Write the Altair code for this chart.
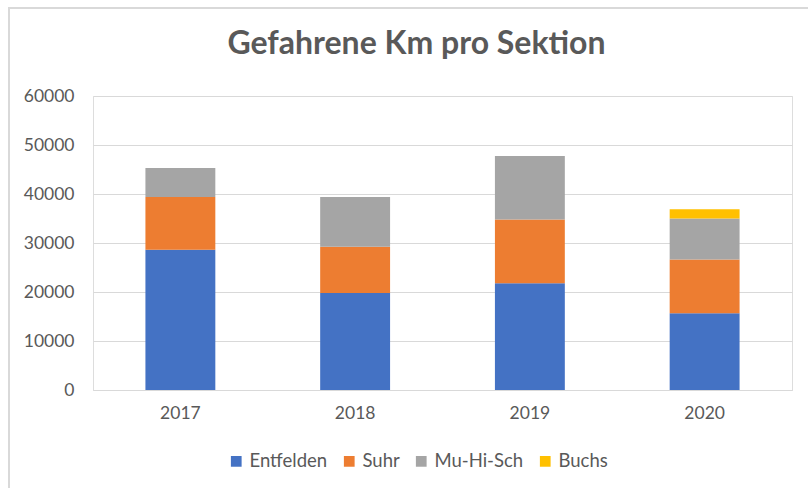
import altair as alt
import pandas as pd

years = ["2017", "2018", "2019", "2020"]
series = ["Entfelden", "Suhr", "Mu-Hi-Sch", "Buchs"]
entfelden = [28600, 19800, 21800, 15650]
suhr = [10800, 9450, 13000, 11000]
muhisch = [5900, 10150, 12950, 8350]
buchs = [0, 0, 0, 1900]
colors = ["#4472C4", "#ED7D31", "#A5A5A5", "#FFC000"]
y_ticks = [0, 10000, 20000, 30000, 40000, 50000, 60000]

rows = []
for vals, name in zip([entfelden, suhr, muhisch, buchs], series):
    for yr, v in zip(years, vals):
        rows.append({"Jahr": yr, "Sektion": name, "Km": v, "ord": series.index(name)})
df = pd.DataFrame(rows)

FONT = "Lato"
GREY = "#595959"

bars = alt.Chart(df).mark_bar().encode(
    x=alt.X("Jahr:N", sort=years, title=None,
            scale=alt.Scale(paddingInner=0.6, paddingOuter=0.3),
            axis=alt.Axis(labelAngle=0, ticks=False, domain=True, domainColor="#D9D9D9",
                          domainWidth=1, labelPadding=14, labelFontSize=17.5, labelColor=GREY,
                          labelFont=FONT, grid=False)),
    y=alt.Y("Km:Q", stack="zero", title=None,
            scale=alt.Scale(domain=[0, 60000], nice=False),
            axis=alt.Axis(values=y_ticks, ticks=False, domain=False, gridColor="#D9D9D9",
                          gridWidth=1, labelPadding=19, labelFontSize=17.5, labelColor=GREY,
                          labelFont=FONT, format="d")),
    color=alt.Color("Sektion:N", scale=alt.Scale(domain=series, range=colors),
                    legend=alt.Legend(title=None, orient="none", direction="horizontal",
                                      legendX=134, legendY=356, symbolType="square",
                                      symbolSize=115, symbolStrokeWidth=0,
                                      labelFontSize=18.5, labelColor=GREY, labelFont=FONT,
                                      labelOffset=4, columnPadding=12)),
    order=alt.Order("ord:Q", sort="ascending"),
)

border_df = pd.DataFrame({"k": [0]})
left_border = alt.Chart(border_df).mark_rule(color="#D9D9D9", strokeWidth=2).encode(
    x=alt.value(-84), y=alt.value(-88), y2=alt.value(400))
top_border = alt.Chart(border_df).mark_rule(color="#D9D9D9", strokeWidth=2).encode(
    x=alt.value(-85), x2=alt.value(720), y=alt.value(-88))

chart = alt.layer(bars, left_border, top_border).properties(
    width=699, height=294,
    autosize=alt.AutoSizeParams(type="none"),
    padding={"left": 93, "top": 96, "right": 16, "bottom": 98},
    title=alt.TitleParams("Gefahrene Km pro Sektion", font=FONT, fontSize=32,
                          fontWeight="bold", color=GREY, anchor="middle", dx=-26,
                          baseline="alphabetic", offset=-79),
).configure_view(stroke=None).configure(background="white")

chart.save("out.html", embed_options={"renderer": "svg", "actions": False})
